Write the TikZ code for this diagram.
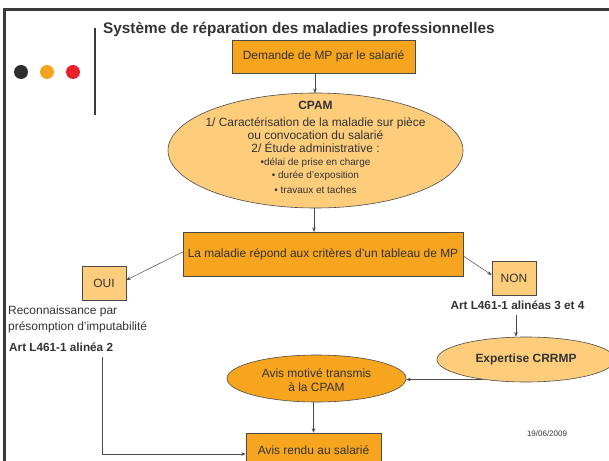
\documentclass[tikz,border=0pt]{standalone}
\usepackage{fontspec}
\setmainfont{Liberation Sans}
\usetikzlibrary{shapes.geometric,arrows.meta}
\definecolor{orangeA}{HTML}{F7A51E}
\definecolor{orangeL}{HTML}{FDCD7C}
\definecolor{txt}{HTML}{333333}
\definecolor{framec}{HTML}{3A3A3A}
\definecolor{linec}{HTML}{4A4A4A}
\definecolor{dotred}{HTML}{E8202A}
\definecolor{dotblack}{HTML}{2D2D2D}
\definecolor{dotorange}{HTML}{F5A31E}
\begin{document}
\begin{tikzpicture}[x=1bp,y=-1bp,
  every node/.style={text=txt, font=\fontsize{12}{13}\selectfont, inner sep=0pt},
  box/.style={draw=linec, line width=0.6pt, fill=orangeA},
  lbox/.style={box, fill=orangeL},
  ell/.style={ellipse, draw=linec, line width=0.6pt, inner sep=0pt},
  arr/.style={draw=linec, line width=0.5pt, -{Stealth[length=4.5pt,width=3.5pt]}},
  lbl/.style={font=\bfseries\fontsize{11.8}{13}\selectfont},
]
\useasboundingbox (0,0) rectangle (609,461);
\fill[white] (0,0) rectangle (609,461);
% frame
\draw[framec, line width=3bp] (609,9.5) -- (4.5,9.5) -- (4.5,461);
\draw[framec, line width=2bp] (95,28) -- (95,115);
% dots
\fill[dotblack] (21,72) circle (7);
\fill[dotorange] (47,72) circle (7);
\fill[dotred] (73,72) circle (7);
% title
\node[anchor=west, font=\bfseries\fontsize{15.4}{17}\selectfont] (title) at (103,29) {Système de réparation des maladies professionnelles};
% nodes
\node[box, minimum width=183bp, minimum height=33bp] (dem) at (323.5,56.5) {Demande de MP par le salarié};
\node[ell, fill=orangeL, minimum width=295bp, minimum height=115bp] (cpam) at (315.5,150.5) {};
\node[align=center] (cpamtxt) at (315.5,147.5) {\textbf{CPAM}\\[4bp]
1/ Caractérisation de la maladie sur pièce\\
ou convocation du salarié\\
2/ Étude administrative :\\
{\fontsize{10}{13}\selectfont •délai de prise en charge}\\
{\fontsize{10}{13}\selectfont • durée d’exposition}\\[3bp]
{\fontsize{10}{13}\selectfont • travaux et taches}};
\node[box, minimum width=280bp, minimum height=44bp] (crit) at (323,254) {La maladie répond aux critères d’un tableau de MP};
\node[lbox, minimum width=44bp, minimum height=34bp] (oui) at (104,283) {OUI};
\node[lbox, minimum width=44bp, minimum height=34bp] (non) at (514,278) {NON};
\node[anchor=west, align=left, font=\fontsize{12}{16}\selectfont] (reco) at (8,319) {Reconnaissance par\\présomption d’imputabilité};
\node[lbl, anchor=west] (art2) at (9,347) {Art L461-1 alinéa 2};
\node[lbl] (art34) at (517.5,305) {Art L461-1 alinéas 3 et 4};
\node[ell, fill=orangeL, minimum width=178bp, minimum height=45bp, font=\bfseries\fontsize{12}{13}\selectfont] (exp) at (526,359.5) {Expertise CRRMP};
\node[ell, fill=orangeA, minimum width=179bp, minimum height=47bp] (avm) at (316.5,378.5) {};
\node[align=center] (avmtxt) at (316.5,380) {Avis motivé transmis\\[1bp]à la CPAM};
\node[box, minimum width=135bp, minimum height=34bp] (rendu) at (313.5,450) {Avis rendu au salarié};
\node[font=\fontsize{8}{9}\selectfont] (date) at (547,434) {19/06/2009};
\coordinate (start2) at (102,357);
% connectors
\draw[arr] (dem.south -| 315,0) -- (315,93);
\draw[arr] (cpam.south -| 314,0) -- (314,232);
\draw[arr] ([yshift=2bp]crit.west) -- ([yshift=3bp]oui.east);
\draw[arr] ([yshift=-2bp]crit.east) -- ([yshift=3bp]non.west);
\draw[arr] ([xshift=-1.5bp,yshift=-5bp]art34.south) -- ([xshift=-1.5bp]art34.south |- exp.north);
\draw[arr] (exp.205) -- (exp.205 -| avm.east);
\draw[arr] (avm.south -| rendu.north) -- (rendu.north);
\draw[arr] (start2) |- ([yshift=-4bp]rendu.west);
\end{tikzpicture}
\end{document}
